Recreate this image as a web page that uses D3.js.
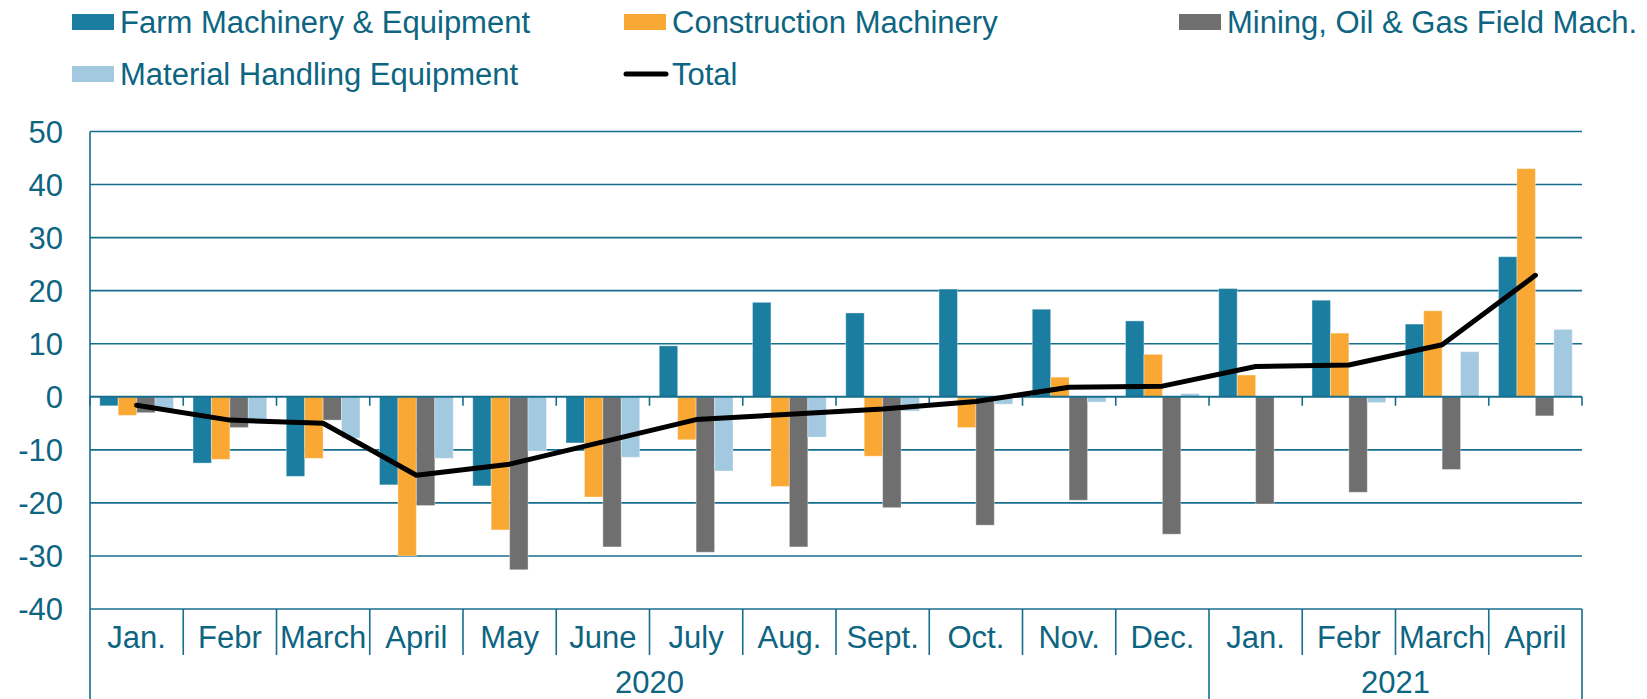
<!DOCTYPE html>
<html>
<head>
<meta charset="utf-8">
<script src="https://cdn.jsdelivr.net/npm/d3@7"></script>
<style>
  html, body { margin: 0; padding: 0; background: #fff; }
  svg { display: block; font-family: "Liberation Sans", Arial, sans-serif; }
</style>
</head>
<body>
<svg id="chart" width="1647" height="699"></svg>
<script>
// --- Data
const months = ['Jan.', 'Febr', 'March', 'April', 'May', 'June', 'July', 'Aug.', 'Sept.', 'Oct.', 'Nov.', 'Dec.', 'Jan.', 'Febr', 'March', 'April'];
const years = [{ label: '2020', from: 0, to: 12 }, { label: '2021', from: 12, to: 16 }];

const farm         = [-1.7, -12.5, -15.0, -16.6, -16.8, -8.7, 9.6, 17.8, 15.8, 20.3, 16.5, 14.3, 20.4, 18.2, 13.7, 26.4];
const construction = [-3.5, -11.8, -11.6, -30.0, -25.1, -18.9, -8.1, -16.9, -11.2, -5.8, 3.7, 8.0, 4.1, 12.0, 16.2, 43.0];
const mining       = [-3.0, -5.8, -4.4, -20.5, -32.6, -28.3, -29.3, -28.3, -20.9, -24.2, -19.5, -25.9, -20.2, -18.0, -13.7, -3.6];
const handling     = [-2.5, -4.3, -7.8, -11.6, -10.2, -11.4, -14.0, -7.6, -2.7, -1.4, -1.0, 0.6, 0.0, -1.1, 8.5, 12.7];
const total        = [-1.6, -4.4, -5.0, -14.8, -12.7, -8.5, -4.3, -3.3, -2.3, -0.9, 1.8, 2.0, 5.7, 6.0, 9.8, 22.9];

const yTicks = [50, 40, 30, 20, 10, 0, -10, -20, -30, -40];

const series = [
  { name: 'Farm Machinery & Equipment', values: farm, color: '#1b7ea0' },
  { name: 'Construction Machinery', values: construction, color: '#f9a833' },
  { name: 'Mining, Oil & Gas Field Mach.', values: mining, color: '#6f6f6f' },
  { name: 'Material Handling Equipment', values: handling, color: '#a3c9e0' }
];

// --- Layout
const svg = d3.select('#chart');
const plotL = 90, plotR = 1582, plotT = 131.5, plotB = 609;
const teal = '#176d8c', textCol = '#0d6582';
const fs = 31;

const x = d3.scaleBand().domain(d3.range(months.length)).range([plotL, plotR]).paddingInner(0).paddingOuter(0);
const y = d3.scaleLinear().domain([-40, 50]).range([plotB, plotT]);
const inner = d3.scaleBand().domain(d3.range(series.length)).range([0, x.bandwidth()]).paddingOuter(0.53).paddingInner(0);

// Gridlines
svg.append('g').selectAll('line').data(yTicks.filter(d => d !== 0)).join('line')
  .attr('x1', plotL).attr('x2', plotR)
  .attr('y1', d => y(d)).attr('y2', d => y(d))
  .attr('stroke', teal).attr('stroke-width', 1.6);

// Y labels
svg.append('g').selectAll('text').data(yTicks).join('text')
  .attr('x', 63).attr('y', d => y(d) + 11)
  .attr('text-anchor', 'end')
  .attr('font-size', fs).attr('fill', textCol)
  .text(d => d);

// Bars
const bars = svg.append('g');
series.forEach((s, si) => {
  bars.append('g').selectAll('rect').data(s.values).join('rect')
    .attr('x', (d, i) => x(i) + inner(si))
    .attr('width', inner.bandwidth())
    .attr('y', d => y(Math.max(0, d)))
    .attr('height', d => Math.abs(y(d) - y(0)))
    .attr('fill', s.color)
    .attr('stroke', 'rgba(255,255,255,0.35)').attr('stroke-width', 1);
});

// Zero line with ticks at category boundaries
svg.append('line').attr('x1', plotL).attr('x2', plotR).attr('y1', y(0)).attr('y2', y(0))
  .attr('stroke', teal).attr('stroke-width', 2);
svg.append('g').selectAll('line').data(d3.range(months.length + 1)).join('line')
  .attr('x1', i => plotL + i * x.step()).attr('x2', i => plotL + i * x.step())
  .attr('y1', y(0)).attr('y2', y(0) + 9)
  .attr('stroke', teal).attr('stroke-width', 1.6);

// Total line
svg.append('path').datum(total)
  .attr('fill', 'none').attr('stroke', '#000').attr('stroke-width', 5)
  .attr('stroke-linecap', 'round').attr('stroke-linejoin', 'round')
  .attr('d', d3.line().x((d, i) => x(i) + x.bandwidth() / 2).y(d => y(d)));

// Y axis line
svg.append('line').attr('x1', plotL).attr('x2', plotL).attr('y1', plotT).attr('y2', 699)
  .attr('stroke', teal).attr('stroke-width', 1.6);

// Category axis (multi-level)
const yearEdges = new Set(years.flatMap(yr => [yr.from, yr.to]));
svg.append('g').selectAll('line').data(d3.range(1, months.length + 1)).join('line')
  .attr('x1', i => plotL + i * x.step()).attr('x2', i => plotL + i * x.step())
  .attr('y1', plotB).attr('y2', i => yearEdges.has(i) ? 699 : 655)
  .attr('stroke', teal).attr('stroke-width', 1.6);

svg.append('g').selectAll('text').data(months).join('text')
  .attr('x', (d, i) => x(i) + x.bandwidth() / 2).attr('y', 648)
  .attr('text-anchor', 'middle').attr('font-size', fs).attr('fill', textCol)
  .text(d => d);

svg.append('g').selectAll('text').data(years).join('text')
  .attr('x', d => plotL + (d.from + d.to) / 2 * x.step()).attr('y', 693)
  .attr('text-anchor', 'middle').attr('font-size', fs).attr('fill', textCol)
  .text(d => d.label);

// Legend
const legendItems = [
  { name: series[0].name, color: series[0].color, x: 72, row: 0 },
  { name: series[1].name, color: series[1].color, x: 624, row: 0 },
  { name: series[2].name, color: series[2].color, x: 1179, row: 0 },
  { name: series[3].name, color: series[3].color, x: 72, row: 1 },
  { name: 'Total', color: '#000', x: 624, row: 1, line: true }
];
const lg = svg.append('g');
legendItems.forEach(it => {
  const cy = it.row === 0 ? 22 : 74;
  if (it.line) {
    lg.append('line').attr('x1', it.x + 2).attr('x2', it.x + 42).attr('y1', cy).attr('y2', cy)
      .attr('stroke', '#000').attr('stroke-width', 5).attr('stroke-linecap', 'round');
  } else {
    lg.append('rect').attr('x', it.x).attr('y', cy - 8).attr('width', 42).attr('height', 16).attr('fill', it.color);
  }
  lg.append('text').attr('x', it.x + 48).attr('y', cy + 10.5)
    .attr('font-size', fs).attr('fill', textCol).text(it.name);
});
</script>
</body>
</html>
